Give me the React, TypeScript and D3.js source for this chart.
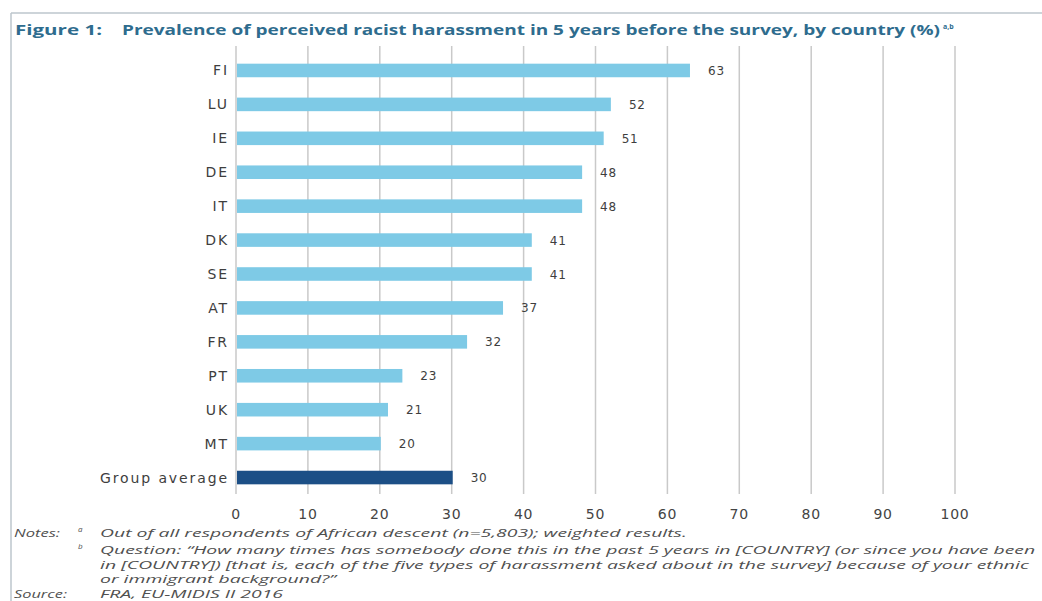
import React, { useLayoutEffect, useRef, useState } from "react";
import * as d3 from "d3";

const categories = ["FI", "LU", "IE", "DE", "IT", "DK", "SE", "AT", "FR", "PT", "UK", "MT", "Group average"];
const values = [63, 52, 51, 48, 48, 41, 41, 37, 32, 23, 21, 20, 30];
const ticks = [0, 10, 20, 30, 40, 50, 60, 70, 80, 90, 100];
const noteLines = [
  "Out of all respondents of African descent (n=5,803); weighted results.",
  "Question: “How many times has somebody done this in the past 5 years in [COUNTRY] (or since you have been",
  "in [COUNTRY]) [that is, each of the five types of harassment asked about in the survey] because of your ethnic",
  "or immigrant background?”",
];
const sourceText = "FRA, EU-MIDIS II 2016";

const W = 1042;
const H = 601;

export default function App() {
  const x = d3.scaleLinear().domain([0, 100]).range([236, 955]);
  const y = d3.scaleBand<string>().domain(categories).range([53.5, 494.5]).paddingInner(0.6).paddingOuter(0.3);
  const bw = y.bandwidth();
  const font = "'Open Sans', 'Noto Sans', sans-serif";
  const wide = "'DejaVu Sans', Verdana, sans-serif";
  const refLine = useRef<SVGTextElement>(null);
  const [sx, setSx] = useState(1.3);
  useLayoutEffect(() => {
    if (refLine.current) {
      const len = refLine.current.getComputedTextLength();
      if (len > 0) setSx(935 / len);
    }
  }, []);
  const noteY = [537, 554, 569, 583];
  const line = (txt: string, x0: number, y0: number, r?: React.Ref<SVGTextElement>) => (
    <g transform={`translate(${x0},${y0}) scale(${sx},1)`}>
      <text ref={r} x={0} y={0}>{txt}</text>
    </g>
  );
  return (
    <svg width={W} height={H} style={{ position: "absolute", left: 0, top: 0, background: "#fff" }}>
      <rect x={0} y={0} width={W} height={H} fill="#fff" />
      <line x1={11} x2={W} y1={13} y2={13} stroke="#bcc6cd" strokeWidth={1.5} />
      <line x1={11} x2={11} y1={13} y2={H} stroke="#bcc6cd" strokeWidth={1.5} />
      <text x={15} y={35} fontFamily={font} fontSize={14} fontWeight={700} fill="#2e6c8e" textLength={87} lengthAdjust="spacingAndGlyphs">Figure 1:</text>
      <text x={122} y={35} fontFamily={font} fontSize={14} fontWeight={700} fill="#2e6c8e" textLength={818} lengthAdjust="spacingAndGlyphs">Prevalence of perceived racist harassment in 5 years before the survey, by country (%)</text>
      <text x={943} y={29} fontFamily={font} fontSize={7} fontWeight={700} fill="#2e6c8e">a,b</text>
      {ticks.map((t) => (
        <g key={t}>
          <line x1={x(t)} x2={x(t)} y1={46} y2={494} stroke="#c9c9c9" strokeWidth={1.5} />
          <text x={x(t)} y={519} textAnchor="middle" fontFamily={wide} fontSize={14} letterSpacing={0.8} fill="#444">{t}</text>
        </g>
      ))}
      {categories.map((c, i) => (
        <g key={c}>
          <rect x={x(0) + 1} y={y(c)} width={x(values[i]) - x(0)} height={bw} fill={i === categories.length - 1 ? "#1c4f86" : "#7ecae6"} />
          <text x={229} y={(y(c) as number) + bw / 2 + 5} textAnchor="end" fontFamily={wide} fontSize={14} letterSpacing={1.9} fill="#3e3e3e">{c}</text>
          <text x={x(values[i]) + 19} y={(y(c) as number) + bw / 2 + 4.5} fontFamily={wide} fontSize={12} letterSpacing={0.8} fill="#3e3e3e">{values[i]}</text>
        </g>
      ))}
      <g fontFamily={font} fontSize={11.5} fontStyle="italic" fill="#505050">
        <text x={14} y={537} textLength={46} lengthAdjust="spacingAndGlyphs">Notes:</text>
        <text x={78} y={532} fontSize={8}>a</text>
        <text x={78} y={549} fontSize={8}>b</text>
        {line(noteLines[0], 100, noteY[0])}
        {line(noteLines[1], 100, noteY[1], refLine)}
        {line(noteLines[2], 100, noteY[2])}
        {line(noteLines[3], 100, noteY[3])}
        <text x={14} y={598} textLength={53} lengthAdjust="spacingAndGlyphs">Source:</text>
        {line(sourceText, 100, 598)}
      </g>
    </svg>
  );
}
